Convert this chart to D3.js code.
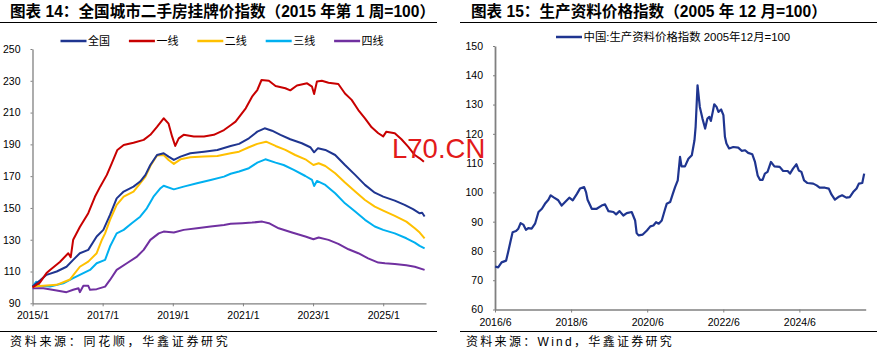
<!DOCTYPE html>
<html><head><meta charset="utf-8">
<script src="https://cdnjs.cloudflare.com/ajax/libs/d3/7.8.5/d3.min.js"></script>
<style>
html,body{margin:0;padding:0;background:#fff;}
svg{display:block;}
text{font-family:"Liberation Sans",Arial,"Noto Sans CJK SC",sans-serif;}
</style></head>
<body>
<svg id="c" width="880" height="356"></svg>
<script>
// ---------- DATA ----------
const leftTitle = "图表 14：全国城市二手房挂牌价指数（2015 年第 1 周=100）";
const rightTitle = "图表 15：生产资料价格指数（2005 年 12 月=100）";
const leftSource = "资料来源：同花顺，华鑫证券研究";
const rightSource = "资料来源：Wind，华鑫证券研究";

const leftSeriesNames = ["全国", "一线", "二线", "三线", "四线"];
const leftSeriesColors = ["#1f3590", "#c80000", "#ffc000", "#00b0f0", "#7030a0"];

// [year (fractional), index]
const national = [[2015.00,100.5],[2015.21,104.3],[2015.40,107.9],[2015.69,110],[2015.97,113],[2016.16,117.3],[2016.35,121.5],[2016.59,123.6],[2016.83,132],[2017.02,136.2],[2017.21,145.6],[2017.40,156],[2017.60,160.3],[2017.88,163.4],[2018.07,166.6],[2018.22,170.8],[2018.36,177],[2018.55,183.3],[2018.74,184.4],[2018.88,182.3],[2019.03,180.2],[2019.22,182.3],[2019.50,184.4],[2019.89,185.4],[2020.27,186.5],[2020.65,189],[2020.89,190.3],[2021.17,193.8],[2021.41,198],[2021.62,200.1],[2021.83,198.6],[2022.07,196],[2022.35,193.2],[2022.68,190.7],[2022.92,188.2],[2023.03,185],[2023.14,187.6],[2023.35,186.5],[2023.63,183.3],[2023.91,177],[2024.20,170.8],[2024.48,164.5],[2024.76,159.6],[2025.00,157.1],[2025.33,154.6],[2025.61,151.9],[2025.85,149.2],[2026.04,146.6],[2026.11,147],[2026.18,144.6]];
const tier1 = [[2015.00,100],[2015.21,103],[2015.40,109],[2015.50,111],[2015.78,116],[2016.02,121.5],[2016.09,119],[2016.16,130],[2016.35,138],[2016.59,146.7],[2016.78,157],[2016.93,163.4],[2017.12,170.8],[2017.26,178],[2017.42,186.5],[2017.60,189.6],[2017.88,191],[2018.17,192.8],[2018.36,196],[2018.55,201],[2018.74,206.4],[2018.88,203],[2018.98,195],[2019.07,189],[2019.17,193.8],[2019.31,196],[2019.60,195],[2019.89,195],[2020.17,196],[2020.46,199],[2020.65,202],[2020.79,204.3],[2021.08,212.7],[2021.26,220],[2021.41,224.2],[2021.53,230.5],[2021.74,230],[2021.93,226.7],[2022.21,225.3],[2022.35,224],[2022.54,227],[2022.83,228.4],[2022.97,226.3],[2023.03,221.7],[2023.11,229.5],[2023.25,230],[2023.44,228.8],[2023.72,228],[2023.91,222],[2024.10,218],[2024.29,211.6],[2024.48,206.4],[2024.67,200.7],[2024.86,197],[2025.00,195],[2025.09,198],[2025.33,197],[2025.52,193.2],[2025.71,188.6],[2025.90,183.3],[2026.04,181.2],[2026.16,179]];
const tier2 = [[2015.00,100.5],[2015.31,101],[2015.69,101.6],[2016.07,105],[2016.35,113],[2016.59,116.2],[2016.83,121.5],[2016.98,130],[2017.07,134],[2017.21,142.5],[2017.40,151.9],[2017.60,157.1],[2017.88,160.3],[2018.07,165.5],[2018.22,169.7],[2018.36,176.4],[2018.55,183],[2018.74,183.3],[2018.88,180.2],[2019.03,177.7],[2019.22,180.6],[2019.50,181.9],[2019.89,182.3],[2020.27,182.7],[2020.65,184.4],[2020.89,185.4],[2021.17,188.2],[2021.41,190.3],[2021.66,191.7],[2021.93,189],[2022.21,186.5],[2022.49,183.3],[2022.78,180.6],[2023.01,177],[2023.16,178.1],[2023.35,176.4],[2023.63,171.8],[2023.91,166],[2024.20,160.3],[2024.48,155],[2024.76,150.8],[2025.00,148.3],[2025.33,145],[2025.66,141.4],[2025.90,137.2],[2026.04,134.5],[2026.18,130.9]];
const tier3 = [[2015.00,100.5],[2015.11,103.6],[2015.21,101],[2015.50,100.5],[2015.88,102.6],[2016.16,105.8],[2016.45,109],[2016.64,111],[2016.83,115.2],[2017.07,117.3],[2017.21,125.7],[2017.40,134],[2017.60,136.2],[2017.83,140.4],[2018.07,144.5],[2018.26,149.8],[2018.45,157.1],[2018.65,162.4],[2018.74,164],[2019.03,161.7],[2019.31,163.4],[2019.69,165.5],[2020.08,167.6],[2020.46,169.7],[2020.65,171.5],[2020.89,172.9],[2021.17,175],[2021.41,178.5],[2021.64,180.6],[2021.93,178.5],[2022.16,177],[2022.45,173.9],[2022.78,170.1],[2022.97,167.6],[2023.03,163.8],[2023.11,167],[2023.35,164.5],[2023.63,159.2],[2023.91,152.9],[2024.20,147.7],[2024.48,142.5],[2024.76,138.3],[2025.00,136.2],[2025.33,134],[2025.66,130.9],[2025.90,128.2],[2026.04,126.1],[2026.18,124.6]];
const tier4 = [[2015.00,99.5],[2015.31,99.5],[2015.69,98],[2015.97,97],[2016.16,98.5],[2016.31,99.5],[2016.35,97],[2016.45,101],[2016.59,101],[2016.64,98.5],[2016.83,98.9],[2017.07,100.5],[2017.21,104.7],[2017.40,111],[2017.69,115.2],[2017.98,119.4],[2018.17,123.6],[2018.36,129.9],[2018.60,134],[2018.74,135.1],[2019.03,134.5],[2019.31,136.2],[2019.69,137.2],[2020.08,138.3],[2020.46,139.3],[2020.65,140],[2020.98,140.4],[2021.26,140.8],[2021.55,141.4],[2021.74,140.4],[2022.02,137.2],[2022.40,134.5],[2022.78,132],[2023.01,130.3],[2023.16,131.4],[2023.44,129.9],[2023.72,127.4],[2024.01,124],[2024.29,121.5],[2024.57,118.3],[2024.86,115.6],[2025.05,115.2],[2025.33,114.8],[2025.66,114],[2025.90,113],[2026.18,111]];

const leftYTicks = [90,110,130,150,170,190,210,230,250];
const leftXTickYears = [2015,2017,2019,2021,2023,2025];
const leftXTickLabels = ["2015/1","2017/1","2019/1","2021/1","2023/1","2025/1"];

const rightSeriesName = "中国:生产资料价格指数 2005年12月=100";
const rightSeriesColor = "#1f3590";
const ppi = [[2016.42,74.7],[2016.50,74.4],[2016.59,76.1],[2016.71,76.7],[2016.77,80.1],[2016.83,83.6],[2016.88,86.4],[2016.97,86.8],[2017.03,87.6],[2017.09,89.5],[2017.16,89],[2017.23,87.2],[2017.29,87.8],[2017.38,87.6],[2017.47,89.3],[2017.56,93.3],[2017.65,94.4],[2017.73,96.1],[2017.82,97.5],[2017.88,99],[2017.97,98.2],[2018.08,97.3],[2018.17,95.5],[2018.26,96.7],[2018.37,98.2],[2018.46,97.3],[2018.57,99.5],[2018.65,101.3],[2018.76,101.8],[2018.81,100.1],[2018.85,97.5],[2018.96,94.4],[2019.09,94.4],[2019.22,95.5],[2019.31,95.9],[2019.40,93.6],[2019.53,93.3],[2019.60,92.5],[2019.69,93.6],[2019.79,92.1],[2019.88,92.9],[2020.01,93.3],[2020.10,90.4],[2020.14,86.1],[2020.19,85.3],[2020.30,85.6],[2020.41,87],[2020.50,88.4],[2020.58,88.7],[2020.65,89.8],[2020.72,89.3],[2020.80,90.4],[2020.89,94.4],[2020.93,96.1],[2021.02,96.7],[2021.09,99.5],[2021.15,101.8],[2021.22,104.1],[2021.28,112.1],[2021.32,108.9],[2021.41,108.9],[2021.50,111.5],[2021.59,112.7],[2021.66,117.8],[2021.69,122.4],[2021.74,136.6],[2021.80,129.2],[2021.87,125.2],[2021.94,121.8],[2022.00,125.2],[2022.05,125.8],[2022.09,124.4],[2022.14,127.5],[2022.18,130.1],[2022.24,129.2],[2022.29,127.5],[2022.36,128.3],[2022.42,126.4],[2022.46,119],[2022.50,116.7],[2022.57,115],[2022.68,115.5],[2022.81,115.3],[2022.90,114.2],[2022.99,114.4],[2023.07,113.5],[2023.18,113],[2023.25,110.4],[2023.32,105.8],[2023.38,104.3],[2023.45,104.3],[2023.51,106.4],[2023.58,107],[2023.67,110.4],[2023.76,108.9],[2023.90,108.7],[2023.99,107.3],[2024.11,107.3],[2024.17,106.4],[2024.25,108.1],[2024.34,109.6],[2024.40,107.5],[2024.47,107],[2024.54,104.1],[2024.63,103.2],[2024.78,103],[2024.87,102.4],[2024.95,101.6],[2025.09,101.6],[2025.19,101.3],[2025.26,99.3],[2025.35,97.5],[2025.44,98.4],[2025.54,99],[2025.65,98.2],[2025.74,98.4],[2025.83,100.1],[2025.92,101.3],[2025.98,103],[2026.07,103.2],[2026.12,106.4]];

const rightYTicks = [60,70,80,90,100,110,120,130,140,150];
const rightXTickYears = [2016.417,2018.417,2020.417,2022.417,2024.417];
const rightXTickLabels = ["2016/6","2018/6","2020/6","2022/6","2024/6"];

const watermark = "L70.CN";

// ---------- DRAW ----------
const svg = d3.select("#c");
const axisColor = "#808080";

function header(x0, x1, tx, title) {
  svg.append("text").attr("x", tx).attr("y", 16.5).attr("font-size", 15.6).attr("font-weight", "bold")
    .attr("fill", "#000").text(title);
  svg.append("line").attr("x1", x0).attr("x2", x1).attr("y1", 22.5).attr("y2", 22.5)
    .attr("stroke", "#000").attr("stroke-width", 1);
}
function footer(x0, x1, tx, src, ls) {
  svg.append("line").attr("x1", x0).attr("x2", x1).attr("y1", 331.5).attr("y2", 331.5)
    .attr("stroke", "#000").attr("stroke-width", 1);
  svg.append("text").attr("x", tx).attr("y", 346).attr("font-size", 12).attr("letter-spacing", ls)
    .attr("fill", "#000").text(src);
}
function styleAxis(g) {
  g.select(".domain").attr("stroke", axisColor).attr("stroke-width", 1.3);
  g.selectAll(".tick line").attr("stroke", axisColor).attr("stroke-width", 1);
  g.selectAll(".tick text").attr("font-size", 10.5).attr("fill", "#000")
    .attr("font-family", '"Liberation Sans",Arial,sans-serif');
}

// Left chart
header(0, 437, 10, leftTitle);
footer(0, 437, 10, leftSource, 2.7);

const xL = d3.scaleLinear().domain([2015, 2026.22]).range([32.5, 426]);
const yL = d3.scaleLinear().domain([90, 250]).range([303.3, 49]);

const gxL = svg.append("g").attr("transform", `translate(0,${yL(90)})`)
  .call(d3.axisBottom(xL).tickValues(leftXTickYears).tickFormat((d, i) => leftXTickLabels[i]).tickSize(3).tickSizeOuter(0).tickPadding(5));
styleAxis(gxL);
const gyL = svg.append("g").attr("transform", `translate(${xL(2015)},0)`)
  .call(d3.axisLeft(yL).tickValues(leftYTicks).tickSize(2).tickSizeOuter(0).tickPadding(10));
styleAxis(gyL);

const lineL = d3.line().x(d => xL(d[0])).y(d => yL(d[1]));
const leftSeries = [national, tier1, tier2, tier3, tier4];
[4, 3, 2, 0, 1].forEach(i => {
  svg.append("path").datum(leftSeries[i]).attr("d", lineL).attr("fill", "none")
    .attr("stroke", leftSeriesColors[i]).attr("stroke-width", 2).attr("stroke-linejoin", "round");
});

// Left legend
const legL = svg.append("g");
leftSeriesNames.forEach((n, i) => {
  const lx = 60.5 + i * 68.4;
  legL.append("line").attr("x1", lx).attr("x2", lx + 26).attr("y1", 41).attr("y2", 41)
    .attr("stroke", leftSeriesColors[i]).attr("stroke-width", 2.5);
  legL.append("text").attr("x", lx + 27.5).attr("y", 45).attr("font-size", 11).attr("fill", "#000").text(n);
});

// Right chart
header(460, 877, 471, rightTitle);
footer(460, 877, 466, rightSource, 2.3);

const xR = d3.scaleLinear().domain([2016.417, 2026.16]).range([495, 865.7]);
const yR = d3.scaleLinear().domain([60, 150]).range([309.5, 46]);

const gxR = svg.append("g").attr("transform", `translate(0,${yR(60)})`)
  .call(d3.axisBottom(xR).tickValues(rightXTickYears).tickFormat((d, i) => rightXTickLabels[i]).tickSize(3).tickSizeOuter(0).tickPadding(6));
styleAxis(gxR);
const gyR = svg.append("g").attr("transform", `translate(${xR(2016.417)},0)`)
  .call(d3.axisLeft(yR).tickValues(rightYTicks).tickSize(2).tickSizeOuter(0).tickPadding(10));
styleAxis(gyR);
gyR.select(".domain").attr("stroke-width", 1.8);

const lineR = d3.line().x(d => xR(d[0])).y(d => yR(d[1]));
svg.append("path").datum(ppi).attr("d", lineR).attr("fill", "none")
  .attr("stroke", rightSeriesColor).attr("stroke-width", 2.2).attr("stroke-linejoin", "round");

svg.append("line").attr("x1", 556).attr("x2", 582).attr("y1", 37).attr("y2", 37)
  .attr("stroke", rightSeriesColor).attr("stroke-width", 2.5);
svg.append("text").attr("x", 583.5).attr("y", 41).attr("font-size", 11.4).attr("fill", "#000").text(rightSeriesName);

// watermark
svg.append("text").attr("x", 392).attr("y", 158).attr("font-size", 27.5).attr("fill", "#e21a1a")
  .attr("font-family", '"Liberation Sans",Arial,sans-serif').text(watermark);
</script>
</body></html>
